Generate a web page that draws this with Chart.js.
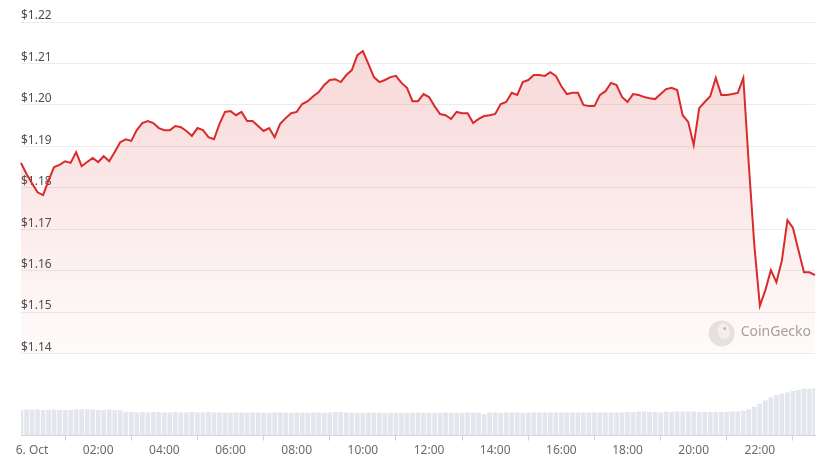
<!DOCTYPE html>
<html>
<head>
<meta charset="utf-8">
<script src="https://cdn.jsdelivr.net/npm/chart.js@4.4.1/dist/chart.umd.min.js"></script>
<style>
  html, body { margin: 0; padding: 0; background: #fff; }
  #wrap { width: 833px; height: 470px; position: relative; }
</style>
</head>
<body>
<div id="wrap"><canvas id="priceChart"></canvas></div>
<script>
// 10-minute steps, 23:40 (5 Oct) to 23:40 (6 Oct)
const startMinute = -20;
const stepMinutes = 10;

const prices = [
  1.1860, 1.1833, 1.1811, 1.1789, 1.1782, 1.1818, 1.1850, 1.1855, 1.1864, 1.1860,
  1.1886, 1.1852, 1.1862, 1.1872, 1.1862, 1.1876, 1.1864, 1.1886, 1.1910, 1.1917,
  1.1913, 1.1939, 1.1956, 1.1961, 1.1956, 1.1944, 1.1939, 1.1939, 1.1949, 1.1946,
  1.1937, 1.1925, 1.1944, 1.1939, 1.1922, 1.1917, 1.1954, 1.1983, 1.1985, 1.1975,
  1.1983, 1.1961, 1.1961, 1.1949, 1.1937, 1.1944, 1.1922, 1.1954, 1.1968, 1.1980,
  1.1983, 1.2002, 1.2009, 1.2021, 1.2031, 1.2048, 1.2060, 1.2062, 1.2055, 1.2072,
  1.2084, 1.2120, 1.2130, 1.2099, 1.2067, 1.2055, 1.2060, 1.2067, 1.2070, 1.2053,
  1.2041, 1.2009, 1.2009, 1.2026, 1.2019, 1.1997, 1.1978, 1.1975, 1.1966, 1.1983,
  1.1980, 1.1980, 1.1956, 1.1966, 1.1973, 1.1975, 1.1978, 1.2002, 1.2007, 1.2029,
  1.2024, 1.2055, 1.2060, 1.2072, 1.2072, 1.2070, 1.2079, 1.2070, 1.2045, 1.2026,
  1.2029, 1.2029, 1.2000, 1.1997, 1.1997, 1.2024, 1.2033, 1.2053, 1.2048, 1.2019,
  1.2007, 1.2026, 1.2024, 1.2019, 1.2016, 1.2014, 1.2026, 1.2038, 1.2041, 1.2036,
  1.1975, 1.1959, 1.1903, 1.1992, 1.2007, 1.2021, 1.2065, 1.2024, 1.2024, 1.2026,
  1.2029, 1.2065, 1.1855, 1.1661, 1.1515, 1.1553, 1.1601, 1.1572, 1.1625, 1.1722,
  1.1703, 1.1649, 1.1596, 1.1596, 1.1589
];

const volumes = [
  62, 63, 62, 63, 62, 62, 63, 62, 61, 62, 63, 64, 64, 63, 62, 62, 63, 62, 61,
  57, 57, 56, 57, 56, 57, 57, 56, 56, 57, 56, 56, 57, 56, 56, 57, 56, 56, 56,
  55, 56, 56, 55, 56, 56, 55, 55, 56, 56, 55, 55, 56, 55, 55, 56, 56,
  55, 56, 57, 57, 56, 55, 55, 55, 56, 55, 55, 54, 55, 55, 55, 55, 55, 56, 55,
  55, 55, 55, 56, 55, 55, 55,
  56, 56, 55, 52, 56, 56, 55, 56, 56, 56, 55, 56, 56, 56, 56, 56, 56, 56, 56, 56,
  56, 56, 56, 56, 56, 56, 56, 56, 56, 57, 57, 58, 58, 57, 57, 56, 58, 57, 58, 58,
  58, 58, 57, 57, 57, 57, 57, 57, 58, 58, 60, 64, 70, 77, 85, 93, 98, 101, 104,
  108, 110, 114, 113, 115
];

const yTicks = { min: 1.14, max: 1.22, step: 0.01 };
const dayLabel = '6. Oct';

const times = prices.map((_, i) => {
  let m = (startMinute + i * stepMinutes + 1440) % 1440;
  const hh = String(Math.floor(m / 60)).padStart(2, '0');
  const mm = String(m % 60).padStart(2, '0');
  return hh + ':' + mm;
});

const FONT = '"Noto Sans", "Open Sans", sans-serif';

// grey gecko watermark in the lower right of the price area
const watermark = {
  id: 'watermark',
  beforeDatasetsDraw(chart) {
    const { ctx, chartArea, scales } = chart;
    const baseY = scales.y.getPixelForValue(yTicks.min) - 21;
    const right = chartArea.right - 4;
    ctx.save();
    ctx.font = '14px ' + FONT;
    ctx.textBaseline = 'middle';
    ctx.textAlign = 'right';
    ctx.fillStyle = '#a3a3a3';
    ctx.fillText('CoinGecko', right, baseY);
    const tw = ctx.measureText('CoinGecko').width;
    const cx = right - tw - 19;
    ctx.beginPath();
    ctx.arc(cx, baseY + 1, 13, 0, Math.PI * 2);
    ctx.fillStyle = '#e6e6e6';
    ctx.fill();
    ctx.beginPath();
    ctx.ellipse(cx + 2, baseY - 1, 6, 8, -0.3, 0, Math.PI * 2);
    ctx.fillStyle = '#f4f4f4';
    ctx.fill();
    ctx.beginPath();
    ctx.arc(cx + 3, baseY - 4, 1.5, 0, Math.PI * 2);
    ctx.fillStyle = '#bdbdbd';
    ctx.fill();
    ctx.restore();
  }
};

document.addEventListener('DOMContentLoaded', () => {
  const ctx = document.getElementById('priceChart').getContext('2d');

  new Chart(ctx, {
    data: {
      labels: times,
      datasets: [
        {
          type: 'line',
          data: prices,
          yAxisID: 'y',
          borderColor: '#d92b2b',
          borderWidth: 2,
          pointRadius: 0,
          tension: 0,
          fill: { value: yTicks.min },
          backgroundColor: (c) => {
            const { chart } = c;
            const area = chart.chartArea;
            if (!area) return 'rgba(217,43,43,0.1)';
            const bottom = chart.scales.y.getPixelForValue(yTicks.min);
            const g = chart.ctx.createLinearGradient(0, area.top, 0, bottom);
            g.addColorStop(0, 'rgba(217,43,43,0.20)');
            g.addColorStop(1, 'rgba(217,43,43,0.02)');
            return g;
          },
          order: 1
        },
        {
          type: 'bar',
          data: volumes,
          yAxisID: 'yv',
          backgroundColor: '#e4e6ed',
          barPercentage: 1,
          categoryPercentage: 0.85,
          order: 2
        }
      ]
    },
    options: {
      responsive: true,
      maintainAspectRatio: false,
      animation: false,
      layout: { padding: { left: 21, right: 18, top: 22, bottom: 9 } },
      plugins: {
        legend: { display: false },
        tooltip: { enabled: false }
      },
      scales: {
        x: {
          type: 'category',
          offset: false,
          grid: {
            drawOnChartArea: false,
            drawTicks: true,
            tickLength: 5,
            color: '#cdd1dc'
          },
          border: { display: true, color: '#cdd1dc' },
          ticks: {
            autoSkip: false,
            maxRotation: 0,
            padding: 3,
            color: '#6b6b6b',
            font: { family: FONT, size: 12 },
            callback: function (val, idx) {
              const t = times[idx];
              if (t === '00:00') return dayLabel;
              const h = parseInt(t.slice(0, 2), 10);
              if (t.endsWith(':00') && h % 2 === 0) return t;
              return null;
            }
          }
        },
        y: {
          position: 'left',
          min: yTicks.min - 0.01982,
          max: yTicks.max,
          afterBuildTicks: (axis) => {
            axis.ticks = axis.ticks.filter(t => t.value >= yTicks.min - 0.0001);
          },
          grid: { color: '#ececec', drawTicks: false },
          border: { display: false },
          ticks: {
            stepSize: yTicks.step,
            mirror: true,
            padding: 0,
            labelOffset: -6,
            color: '#4d4d4d',
            font: { family: FONT, size: 12 },
            callback: (v) => '$' + Number(v).toFixed(2)
          }
        },
        yv: {
          display: false,
          min: 0,
          max: 1000
        }
      }
    },
    plugins: [watermark]
  });
});
</script>
</body>
</html>
